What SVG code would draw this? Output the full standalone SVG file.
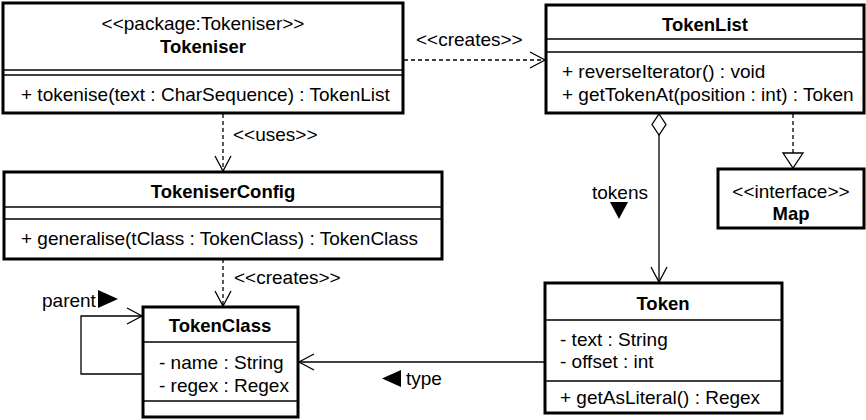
<svg xmlns="http://www.w3.org/2000/svg" width="866" height="420" viewBox="0 0 866 420">
  <style>
    text { font-family: "Liberation Sans", Arial, sans-serif; font-size: 19px; fill: #000; }
    .b { font-weight: bold; font-size: 18.5px; }
    .c { text-anchor: middle; }
    .box { fill: #fff; stroke: #000; stroke-width: 3; }
    .sep { stroke: #000; stroke-width: 1.5; fill: none; }
    .ln { stroke: #000; stroke-width: 1.3; fill: none; }
    .dash { stroke: #000; stroke-width: 1.3; fill: none; stroke-dasharray: 4 3; }
    .head { stroke: #000; stroke-width: 1.3; fill: none; }
    .hollow { stroke: #000; stroke-width: 1.3; fill: #fff; }
    .solid { fill: #000; stroke: none; }
  </style>

  <!-- connectors -->
  <g id="connectors">
    <!-- Tokeniser creates TokenList -->
    <line class="dash" x1="404" y1="60" x2="545" y2="60"/>
    <polyline class="head" points="530,52 545,60 530,68"/>
    <text x="416" y="46">&lt;&lt;creates&gt;&gt;</text>

    <!-- Tokeniser uses TokeniserConfig -->
    <line class="dash" x1="223" y1="114" x2="223" y2="171"/>
    <polyline class="head" points="215,156 223,171 231,156"/>
    <text x="233" y="141">&lt;&lt;uses&gt;&gt;</text>

    <!-- TokeniserConfig creates TokenClass -->
    <line class="dash" x1="223" y1="259" x2="223" y2="306"/>
    <polyline class="head" points="215,291 223,306 231,291"/>
    <text x="234" y="284">&lt;&lt;creates&gt;&gt;</text>

    <!-- TokenClass parent self-association -->
    <polyline class="ln" points="142,374 81,374 81,316 142,316"/>
    <polyline class="head" points="127,308 142,316 127,324"/>
    <text x="42" y="307">parent</text>
    <polygon class="solid" points="98,290 118,299 98,308"/>

    <!-- Token type -> TokenClass -->
    <line class="ln" x1="544" y1="362" x2="299" y2="362"/>
    <polyline class="head" points="314,354 299,362 314,370"/>
    <polygon class="solid" points="401,370 382,378.5 401,387"/>
    <text x="406" y="385">type</text>

    <!-- TokenList aggregates Token -->
    <line class="ln" x1="659" y1="135" x2="659" y2="282"/>
    <polygon class="hollow" points="659,114 666,124.5 659,135 652,124.5"/>
    <polyline class="head" points="651,267 659,282 667,267"/>
    <text x="592" y="199">tokens</text>
    <polygon class="solid" points="610,202 628,202 619,219"/>

    <!-- TokenList realises Map -->
    <line class="dash" x1="793" y1="114" x2="793" y2="153"/>
    <polygon class="hollow" points="783,153 803,153 793,168"/>
  </g>

  <g id="Tokeniser">
    <rect class="box" x="3" y="3" width="400" height="110"/>
    <line class="sep" x1="3" y1="70" x2="403" y2="70"/>
    <line class="sep" x1="3" y1="75" x2="403" y2="75"/>
    <text class="c" x="203" y="30">&lt;&lt;package:Tokeniser&gt;&gt;</text>
    <text class="c b" x="203" y="53">Tokeniser</text>
    <text x="21" y="101">+ tokenise(text : CharSequence) : TokenList</text>
  </g>

  <g id="TokenList">
    <rect class="box" x="546" y="5" width="318" height="108"/>
    <line class="sep" x1="546" y1="39" x2="864" y2="39"/>
    <line class="sep" x1="546" y1="52" x2="864" y2="52"/>
    <text class="c b" x="705" y="31">TokenList</text>
    <text x="562" y="78">+ reverseIterator() : void</text>
    <text x="562" y="101">+ getTokenAt(position : int) : Token</text>
  </g>

  <g id="Map">
    <rect class="box" x="718" y="169" width="146" height="59"/>
    <text class="c" x="791" y="198">&lt;&lt;interface&gt;&gt;</text>
    <text class="c b" x="791" y="220">Map</text>
  </g>

  <g id="TokeniserConfig">
    <rect class="box" x="4" y="172" width="438" height="87"/>
    <line class="sep" x1="4" y1="207" x2="442" y2="207"/>
    <line class="sep" x1="4" y1="219" x2="442" y2="219"/>
    <text class="c b" x="223" y="198">TokeniserConfig</text>
    <text x="21" y="245">+ generalise(tClass : TokenClass) : TokenClass</text>
  </g>

  <g id="TokenClass">
    <rect class="box" x="143" y="307" width="155" height="110"/>
    <line class="sep" x1="143" y1="342" x2="298" y2="342"/>
    <line class="sep" x1="143" y1="401" x2="298" y2="401"/>
    <text class="c b" x="220" y="332">TokenClass</text>
    <text x="159" y="369">- name : String</text>
    <text x="159" y="392">- regex : Regex</text>
  </g>

  <g id="Token">
    <rect class="box" x="545" y="283" width="237" height="130"/>
    <line class="sep" x1="545" y1="320" x2="782" y2="320"/>
    <line class="sep" x1="545" y1="381" x2="782" y2="381"/>
    <text class="c b" x="663" y="310">Token</text>
    <text x="560" y="346">- text : String</text>
    <text x="560" y="368">- offset : int</text>
    <text x="560" y="404">+ getAsLiteral() : Regex</text>
  </g>
</svg>
